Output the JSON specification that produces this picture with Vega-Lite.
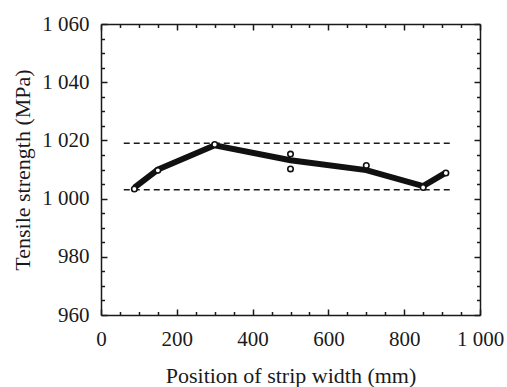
{
  "$schema": "https://vega.github.io/schema/vega-lite/v6.json",
  "width": 379,
  "height": 291,
  "autosize": {"type": "none"},
  "padding": {"left": 101, "top": 24, "right": 27, "bottom": 72},
  "background": "white",
  "config": {
    "view": {"stroke": null},
    "font": "Liberation Serif",
    "axis": {
      "grid": false,
      "domainColor": "#1a1a1a",
      "domainWidth": 1.5,
      "tickColor": "#1a1a1a",
      "tickWidth": 1.5,
      "labelFont": "Liberation Serif",
      "labelFontSize": 21,
      "labelColor": "#1a1a1a",
      "titleFont": "Liberation Serif",
      "titleFontSize": 22,
      "titleFontWeight": "normal",
      "titleColor": "#1a1a1a",
      "labelOverlap": false,
      "labelFlush": false
    }
  },
  "datasets": {
    "limits": [
      {"x1": 60, "x2": 930, "y": 1019},
      {"x1": 60, "x2": 930, "y": 1003}
    ],
    "mean": [
      {"pos": 88, "ts": 1003.8},
      {"pos": 150, "ts": 1010.0},
      {"pos": 300, "ts": 1018.3},
      {"pos": 500, "ts": 1013.2},
      {"pos": 700, "ts": 1009.8},
      {"pos": 850, "ts": 1004.3},
      {"pos": 910, "ts": 1008.9}
    ],
    "obs": [
      {"pos": 88, "ts": 1003.3},
      {"pos": 150, "ts": 1009.7},
      {"pos": 300, "ts": 1018.6},
      {"pos": 500, "ts": 1015.3},
      {"pos": 500, "ts": 1010.2},
      {"pos": 700, "ts": 1011.4},
      {"pos": 850, "ts": 1003.8},
      {"pos": 910, "ts": 1008.8}
    ]
  },
  "layer": [
    {
      "data": {"name": "limits"},
      "mark": {"type": "rule", "strokeDash": [6, 4], "strokeWidth": 1.5, "color": "#1a1a1a"},
      "encoding": {
        "x": {
          "field": "x1", "type": "quantitative",
          "scale": {"domain": [0, 1000], "nice": false, "zero": false},
          "axis": {
            "orient": "bottom",
            "title": "Position of strip width (mm)",
            "values": [0,50,100,150,200,250,300,350,400,450,500,550,600,650,700,750,800,850,900,950,1000],
            "tickSize": {"condition": {"test": "datum.value % 200 === 0", "value": -6}, "value": -3.5},
            "labelExpr": "datum.value % 200 === 0 ? replace(format(datum.value, ','), ',', ' ') : ''",
            "labelPadding": 19,
            "titlePadding": 14
          }
        },
        "x2": {"field": "x2"},
        "y": {
          "field": "y", "type": "quantitative",
          "scale": {"domain": [960, 1060], "nice": false, "zero": false},
          "axis": {
            "orient": "left",
            "title": "Tensile strength (MPa)",
            "values": [960,965,970,975,980,985,990,995,1000,1005,1010,1015,1020,1025,1030,1035,1040,1045,1050,1055,1060],
            "tickSize": {"condition": {"test": "datum.value % 20 === 0", "value": -6}, "value": -3.5},
            "labelExpr": "datum.value % 20 === 0 ? replace(format(datum.value, ','), ',', ' ') : ''",
            "labelPadding": 18,
            "titlePadding": 7
          }
        }
      }
    },
    {
      "data": {"name": "mean"},
      "mark": {"type": "line", "strokeWidth": 6, "color": "#111111", "strokeCap": "butt", "strokeJoin": "miter"},
      "encoding": {
        "x": {
          "field": "pos", "type": "quantitative",
          "axis": {
            "orient": "top",
            "title": null,
            "labels": false,
            "values": [0,50,100,150,200,250,300,350,400,450,500,550,600,650,700,750,800,850,900,950,1000],
            "tickSize": {"condition": {"test": "datum.value % 200 === 0", "value": -6}, "value": -3.5}
          }
        },
        "y": {
          "field": "ts", "type": "quantitative",
          "axis": {
            "orient": "right",
            "title": null,
            "labels": false,
            "values": [960,965,970,975,980,985,990,995,1000,1005,1010,1015,1020,1025,1030,1035,1040,1045,1050,1055,1060],
            "tickSize": {"condition": {"test": "datum.value % 20 === 0", "value": -6}, "value": -3.5}
          }
        }
      }
    },
    {
      "data": {"name": "obs"},
      "mark": {"type": "point", "shape": "circle", "filled": false, "fill": "white", "fillOpacity": 1, "stroke": "#111111", "strokeWidth": 1.6, "size": 30, "opacity": 1},
      "encoding": {
        "x": {"field": "pos", "type": "quantitative", "axis": null},
        "y": {"field": "ts", "type": "quantitative", "axis": null}
      }
    }
  ],
  "resolve": {"axis": {"x": "independent", "y": "independent"}}
}
